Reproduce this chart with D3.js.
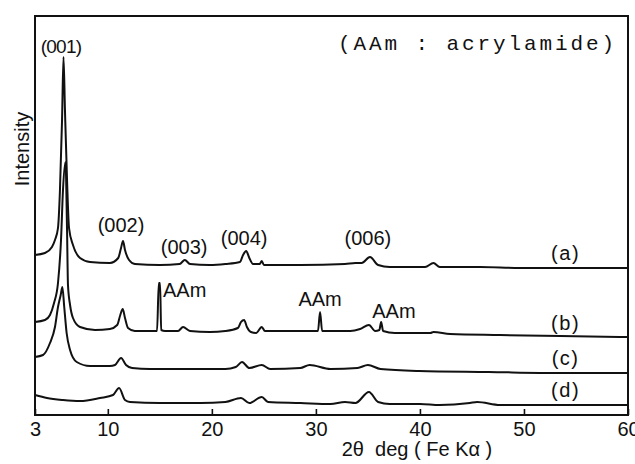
<!DOCTYPE html>
<html>
<head>
<meta charset="utf-8">
<script src="https://cdn.jsdelivr.net/npm/d3@7"></script>
<style>
  body { margin: 0; background: #fff; }
  svg { display: block; }
  text { fill: #111; }
</style>
</head>
<body>
<div id="chart"></div>
<script>
// XRD patterns, 2θ (deg) vs intensity (arbitrary units, curves stacked)
const xTicks = [3, 10, 20, 30, 40, 50, 60];

const curveA = [
  [3.0, 160], [3.96, 162], [4.63, 168], [4.92, 175], [5.21, 187], [5.4, 225],
  [5.6, 295], [5.74, 358], [5.88, 305], [6.08, 235], [6.27, 187], [6.65, 170],
  [7.33, 157], [8.29, 153], [10.2, 152], [11.0, 157], [11.27, 167], [11.46, 174],
  [11.65, 165], [12.04, 155], [12.6, 151], [15.0, 150], [16.9, 151], [17.4, 155],
  [17.9, 151], [19.8, 150], [21.3, 151], [22.7, 153], [23.0, 160], [23.3, 164],
  [23.6, 157], [23.96, 151], [24.6, 151], [24.8, 154], [25.0, 150], [28.5, 150],
  [32.8, 151], [33.8, 152], [34.4, 152], [35.2, 158], [35.98, 150], [37.1, 148],
  [40.5, 148], [41.3, 152], [41.9, 148], [45.8, 148], [49.6, 147], [53.5, 147],
  [57.3, 147], [60.0, 147]
];

const curveB = [
  [3.0, 93], [3.96, 95], [4.44, 100], [4.83, 112], [5.21, 132], [5.5, 175],
  [5.69, 225], [5.93, 253], [6.08, 185], [6.17, 130], [6.37, 110], [6.65, 97],
  [7.33, 88], [8.77, 85], [10.2, 86], [10.9, 90], [11.2, 100], [11.43, 106],
  [11.65, 97], [11.94, 87], [12.6, 84], [14.06, 84], [14.73, 84], [14.9, 132],
  [15.02, 132], [15.13, 85], [15.5, 84], [16.75, 84], [17.23, 88], [17.9, 84],
  [19.8, 83], [21.3, 84], [22.5, 87], [22.8, 93], [23.1, 95], [23.37, 88],
  [23.75, 83], [24.25, 82], [24.8, 88], [25.1, 84], [28.5, 84], [30.2, 84],
  [30.4, 103], [30.6, 84], [33.3, 84], [34.25, 86], [35.1, 90], [35.7, 84],
  [36.1, 85], [36.27, 93], [36.46, 84], [37.6, 82], [41.0, 82], [41.3, 83],
  [42.9, 81], [47.7, 80], [53.5, 79], [60.0, 78]
];

const curveC = [
  [3.0, 58], [3.77, 60], [4.44, 72], [4.92, 88], [5.21, 108], [5.47, 120],
  [5.63, 128], [5.81, 108], [6.04, 82], [6.37, 65], [7.01, 53], [8.29, 49],
  [10.2, 49], [10.69, 50], [11.27, 57], [11.75, 50], [12.33, 47], [14.06, 46],
  [17.0, 46], [21.3, 46], [22.3, 48], [22.9, 53], [23.6, 47], [24.8, 50],
  [25.6, 46], [28.5, 47], [29.4, 50], [31.4, 46], [34.0, 47], [35.0, 50],
  [36.2, 46], [39.9, 44], [46.6, 43], [53.5, 42], [60.0, 42]
];

const curveD = [
  [3.0, 20], [4.15, 17], [5.69, 15], [7.33, 14], [9.25, 17], [10.5, 20],
  [11.08, 27], [11.65, 15], [12.13, 13], [15.0, 12], [18.9, 12], [21.3, 13],
  [22.8, 17], [23.6, 12], [24.8, 18], [25.4, 13], [28.5, 12], [31.4, 11],
  [32.8, 13], [33.8, 12], [35.1, 23], [35.98, 13], [37.1, 11], [40.0, 11],
  [41.9, 10], [44.8, 12], [45.5, 13], [47.7, 10], [53.5, 10], [60.0, 10]
];

const series = [
  {label: '(a)', data: curveA, labelY: 155},
  {label: '(b)', data: curveB, labelY: 85},
  {label: '(c)', data: curveC, labelY: 50},
  {label: '(d)', data: curveD, labelY: 18}
];

// peak annotations [2θ, intensity at text baseline, text, anchor]
const peakLabels = [
  [5.5, 362, '(001)', 'middle'],
  [11.27, 183, '(002)', 'middle'],
  [17.33, 161, '(003)', 'middle'],
  [23.1, 170, '(004)', 'middle'],
  [35.0, 170, '(006)', 'middle'],
  [15.3, 118, 'AAm', 'start'],
  [30.4, 109, 'AAm', 'middle'],
  [37.5, 97, 'AAm', 'middle']
];

const W = 635, H = 464;
const box = {left: 35, right: 628, top: 16, bottom: 415};

const svg = d3.select('#chart').append('svg')
    .attr('width', W)
    .attr('height', H);

const x = d3.scaleLinear().domain([3, 60]).range([box.left, box.right]);
const y = d3.scaleLinear().domain([0, 400]).range([box.bottom, box.top - 1]);

const line = d3.line()
    .x(d => x(d[0]))
    .y(d => y(d[1]))
    .curve(d3.curveMonotoneX);

svg.append('g')
    .attr('class', 'curves')
  .selectAll('path')
  .data(series)
  .join('path')
    .attr('d', d => line(d.data))
    .attr('fill', 'none')
    .attr('stroke', '#111')
    .attr('stroke-width', 2)
    .attr('stroke-linejoin', 'round');

// frame
svg.append('rect')
    .attr('x', box.left)
    .attr('y', box.top)
    .attr('width', box.right - box.left)
    .attr('height', box.bottom - box.top)
    .attr('fill', 'none')
    .attr('stroke', '#111')
    .attr('stroke-width', 2);

svg.append('g')
    .attr('transform', `translate(0,${box.bottom})`)
    .call(d3.axisBottom(x).tickValues(xTicks).tickSize(-6).tickPadding(7).tickFormat(d3.format('d')))
    .call(g => g.select('.domain').remove())
    .call(g => g.selectAll('.tick line').attr('stroke', '#111').attr('stroke-width', 1.6))
    .call(g => g.selectAll('.tick text')
        .attr('fill', '#111')
        .attr('font-family', 'Liberation Sans, Arial, sans-serif')
        .attr('font-size', 20));

svg.append('text')
    .attr('x', 417)
    .attr('y', 456)
    .attr('text-anchor', 'middle')
    .attr('font-family', 'Liberation Sans, Arial, sans-serif')
    .attr('font-size', 20)
    .attr('xml:space', 'preserve')
    .text('2θ  deg ( Fe Kα )');

svg.append('text')
    .attr('transform', 'translate(29,149) rotate(-90)')
    .attr('text-anchor', 'middle')
    .attr('font-family', 'Liberation Sans, Arial, sans-serif')
    .attr('font-size', 20)
    .text('Intensity');

svg.append('text')
    .attr('x', 338)
    .attr('y', 50)
    .attr('font-family', 'Liberation Mono, DejaVu Sans Mono, monospace')
    .attr('font-size', 21)
    .attr('letter-spacing', 2.9)
    .attr('xml:space', 'preserve')
    .text('(AAm : acrylamide)');

svg.append('g')
    .attr('class', 'peak-labels')
  .selectAll('text')
  .data(peakLabels)
  .join('text')
    .attr('x', d => x(d[0]))
    .attr('y', d => y(d[1]))
    .attr('text-anchor', d => d[3])
    .attr('font-family', 'Liberation Sans, Arial, sans-serif')
    .attr('font-size', (d, i) => i === 0 ? 19 : 20)
    .attr('letter-spacing', (d, i) => i === 0 ? -0.8 : 0)
    .text(d => d[2]);

svg.append('g')
    .attr('class', 'series-labels')
  .selectAll('text')
  .data(series)
  .join('text')
    .attr('x', x(54.0))
    .attr('y', d => y(d.labelY))
    .attr('text-anchor', 'middle')
    .attr('font-family', 'Liberation Sans, Arial, sans-serif')
    .attr('font-size', 20)
    .attr('letter-spacing', 1.5)
    .text(d => d.label);
</script>
</body>
</html>
